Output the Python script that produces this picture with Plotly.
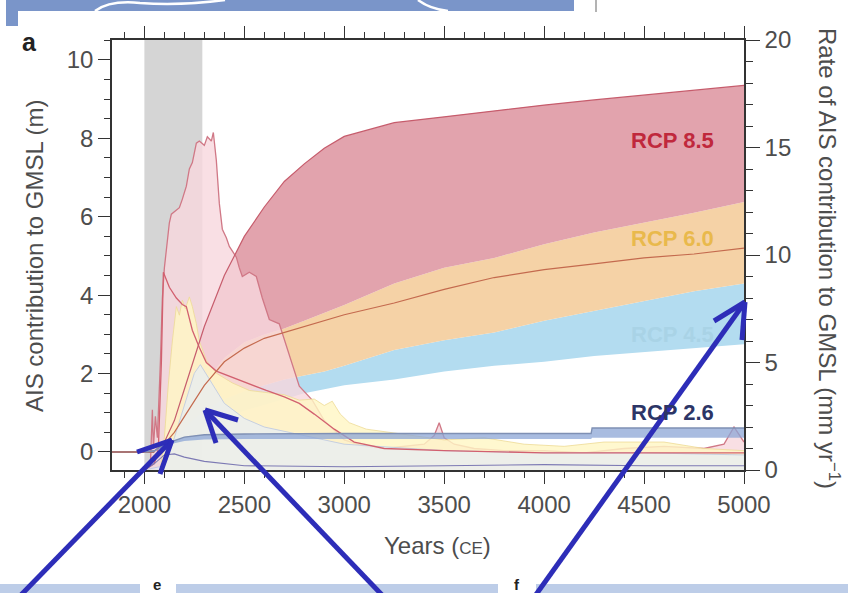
import plotly.graph_objects as go

# ---------------------------------------------------------------- data
# Cumulative Antarctic ice-sheet contribution to GMSL (m), ensemble ranges
band_years = [2000, 2050, 2100, 2150, 2200, 2250, 2300, 2400, 2500, 2600, 2700,
              2800, 2900, 3000, 3250, 3500, 3750, 4000, 4250, 4500, 4750, 5000]
rcp85_upper = [0, 0.02, 0.25, 0.8, 1.6, 2.4, 3.2, 4.5, 5.5, 6.25, 6.9,
               7.35, 7.75, 8.05, 8.4, 8.55, 8.7, 8.85, 8.98, 9.1, 9.22, 9.35]
rcp85_lower = [0, 0.02, 0.2, 0.55, 0.95, 1.35, 1.75, 2.4, 2.8, 3.0, 3.15,
               3.35, 3.55, 3.75, 4.3, 4.7, 4.95, 5.3, 5.6, 5.85, 6.1, 6.38]
median_line = [0, 0.02, 0.2, 0.5, 0.9, 1.3, 1.7, 2.3, 2.65, 2.9, 3.05,
               3.2, 3.35, 3.5, 3.8, 4.15, 4.45, 4.65, 4.8, 4.95, 5.05, 5.2]
rcp60_lower = [0, 0.01, 0.12, 0.35, 0.6, 0.85, 1.05, 1.35, 1.55, 1.7, 1.85,
               1.95, 2.05, 2.2, 2.6, 2.85, 3.05, 3.35, 3.6, 3.85, 4.1, 4.3]
rcp45_lower = [0, 0.01, 0.08, 0.2, 0.35, 0.5, 0.65, 0.85, 1.05, 1.2, 1.35,
               1.5, 1.6, 1.7, 1.85, 2.05, 2.2, 2.3, 2.45, 2.55, 2.65, 2.75]

rcp26_years = [2000, 2050, 2100, 2150, 2200, 2300, 2500, 3000, 4000, 4235, 4240, 5000]
rcp26_lower = [0, 0.01, 0.12, 0.22, 0.28, 0.32, 0.33, 0.33, 0.33, 0.33, 0.36, 0.36]
rcp26_upper = [0, 0.03, 0.2, 0.3, 0.38, 0.44, 0.46, 0.47, 0.47, 0.47, 0.61, 0.61]

base_years = [1838, 2050]
base_vals = [0, 0]

# Rate of AIS contribution (mm/yr)
rate85_years = [2000, 2030, 2040, 2045, 2055, 2065, 2080, 2090, 2100, 2115, 2125,
                2135, 2150, 2175, 2190, 2210, 2225, 2240, 2260, 2275, 2300, 2315,
                2335, 2345, 2360, 2375, 2390, 2410, 2425, 2460, 2475, 2490, 2525,
                2560, 2590, 2625, 2675, 2725, 2775, 2840, 2900, 3000, 3100, 3200,
                3300, 3400, 3450, 3475, 3500, 3550, 3650, 3800, 4000, 4200, 4400,
                4600, 4800, 4900, 4950, 5000]
rate85_upper = [0, 0.2, 2.8, 1.0, 2.5, 1.5, 5.0, 8.0, 9.4, 10.5, 11.5,
                11.9, 12.0, 12.2, 12.6, 13.2, 14.0, 14.3, 15.2, 15.3, 15.1, 15.5,
                15.3, 15.7, 14.4, 12.4, 11.2, 10.8, 10.4, 9.9, 9.4, 9.0, 9.2,
                9.0, 8.0, 7.0, 6.8, 5.3, 3.9, 3.25, 2.3, 1.4, 1.1, 1.0,
                1.1, 1.2, 1.6, 2.2, 1.5, 1.2, 1.0, 0.9, 0.9, 0.8, 1.0,
                1.1, 1.0, 1.2, 2.0, 1.3]

rate85_mid_years = [2000, 2050, 2070, 2085, 2095, 2110, 2125, 2160, 2190, 2210,
                    2240, 2275, 2310, 2360, 2440, 2520, 2610, 2700, 2775, 2850,
                    2950, 3050, 3200, 3500, 4000, 4500, 5000]
rate85_mid = [0, 0.3, 1.0, 5.0, 9.2, 8.8, 8.5, 8.0, 7.7, 7.6,
              6.5, 5.7, 5.0, 4.6, 4.3, 4.0, 3.7, 3.4, 3.1, 2.6,
              1.9, 1.3, 1.0, 0.9, 0.8, 0.8, 0.8]

rate60_years = [2000, 2080, 2100, 2120, 2140, 2160, 2175, 2190, 2205, 2225, 2240,
                2260, 2275, 2310, 2360, 2440, 2525, 2610, 2700, 2775, 2850, 2900,
                2940, 2980, 3025, 3110, 3275, 3500, 3700, 3900, 4100, 4300, 4600,
                4800, 5000]
rate60_upper = [0, 0, 1.5, 4.0, 6.0, 7.6, 7.2, 7.9, 7.5, 8.05, 7.6,
                6.8, 6.0, 5.1, 4.5, 4.05, 3.7, 3.6, 3.5, 3.25, 3.3, 3.0,
                3.2, 2.6, 2.2, 1.9, 1.7, 1.4, 1.5, 1.2, 1.1, 1.3, 1.3,
                1.0, 0.9]

rate45_years = [2000, 2100, 2150, 2200, 2250, 2280, 2300, 2350, 2400, 2500, 2600,
                2800, 3000, 3500, 4000, 4500, 5000]
rate45_upper = [0, 0.2, 1.5, 3.0, 4.5, 4.9, 4.6, 3.8, 3.1, 2.4, 2.0,
                1.6, 1.2, 0.9, 0.8, 0.8, 0.7]

rate26_years = [2000, 2050, 2100, 2150, 2200, 2300, 2500, 3000, 3500, 4000, 4500, 5000]
rate26 = [0, 0.3, 0.7, 0.75, 0.6, 0.4, 0.2, 0.15, 0.2, 0.25, 0.2, 0.2]

scenario_labels = ["RCP 8.5", "RCP 6.0", "RCP 4.5", "RCP 2.6"]
label_heights_m = [7.95, 5.45, 3.0, 1.0]
label_colors = ["#C0283C", "#E9B94C", "#A9D3E6", "#2C3566"]

x_ticks = [2000, 2500, 3000, 3500, 4000, 4500, 5000]

# ---------------------------------------------------------------- figure
FONT = "Liberation Sans, Arial, sans-serif"
fig = go.Figure()


def band(xs, lo, hi, color, yaxis="y"):
    fig.add_trace(go.Scatter(x=xs, y=lo, mode="lines", line=dict(width=0),
                             hoverinfo="skip", showlegend=False, yaxis=yaxis))
    fig.add_trace(go.Scatter(x=xs, y=hi, mode="lines", line=dict(width=0),
                             fill="tonexty", fillcolor=color,
                             hoverinfo="skip", showlegend=False, yaxis=yaxis))


# sea-level bands (left axis)
band(band_years, rcp45_lower, rcp60_lower, "#B3DCF0")
band(band_years, rcp60_lower, rcp85_lower, "#F5D2A6")
band(band_years, rcp85_lower, rcp85_upper, "#E2A3AD")

# rate envelopes (right axis), drawn over the bands
fig.add_trace(go.Scatter(x=rate85_years, y=rate85_upper, yaxis="y2", mode="lines",
                         line=dict(color="#D07886", width=1.3), fill="tozeroy",
                         fillcolor="rgba(247,215,221,0.80)", showlegend=False))
fig.add_trace(go.Scatter(x=rate60_years, y=rate60_upper, yaxis="y2", mode="lines",
                         line=dict(color="#EDDB95", width=0.8), fill="tozeroy",
                         fillcolor="rgba(255,246,196,0.82)", showlegend=False))
fig.add_trace(go.Scatter(x=rate45_years, y=rate45_upper, yaxis="y2", mode="lines",
                         line=dict(color="#BAC6E2", width=0.8), fill="tozeroy",
                         fillcolor="rgba(228,236,250,0.65)", showlegend=False))
fig.add_trace(go.Scatter(x=rate85_mid_years, y=rate85_mid, yaxis="y2", mode="lines",
                         line=dict(color="#D2606F", width=1.3), showlegend=False))
fig.add_trace(go.Scatter(x=rate26_years, y=rate26, yaxis="y2", mode="lines",
                         line=dict(color="#7D7AB4", width=1.1), showlegend=False))

# outlines and low-scenario band on top (left-axis scale)
fig.add_trace(go.Scatter(x=band_years, y=rcp85_upper, yaxis="y3", mode="lines",
                         line=dict(color="#C65C6C", width=1.2), showlegend=False))
fig.add_trace(go.Scatter(x=band_years, y=median_line, yaxis="y3", mode="lines",
                         line=dict(color="#C46A4E", width=1.2), showlegend=False))
fig.add_trace(go.Scatter(x=base_years, y=base_vals, yaxis="y3", mode="lines",
                         line=dict(color="#A87474", width=2), showlegend=False))
band(rcp26_years, rcp26_lower, rcp26_upper, "rgba(140,166,214,0.75)", yaxis="y3")
fig.add_trace(go.Scatter(x=rcp26_years, y=rcp26_upper, yaxis="y3", mode="lines",
                         line=dict(color="#7F90B4", width=1.4), showlegend=False))

# ---------------------------------------------------------------- axes
L, R, T, B = 112, 744, 40, 470
W, H = 848, 593


def px(x):
    return (x - L) / (R - L)


def py(y):
    return (B - y) / (B - T)


tickfont = dict(family=FONT, size=24, color="#4D4D4D")
axis_common = dict(showline=True, linecolor="#333333", linewidth=1.5,
                   ticks="outside", tickcolor="#333333", tickwidth=1.3,
                   showgrid=False, zeroline=False, tickfont=tickfont)

Y_RANGE = [-0.46, 10.51]
fig.update_layout(
    width=W, height=H, autosize=False,
    margin=dict(l=L, r=W - R, t=T, b=H - B),
    paper_bgcolor="white", plot_bgcolor="white",
    xaxis=dict(range=[1838, 5000], tickvals=x_ticks, ticklen=12, mirror="ticks",
               minor=dict(dtick=100, tick0=2000, ticklen=6, ticks="outside",
                          tickcolor="#333333"),
               **axis_common),
    yaxis=dict(range=Y_RANGE, tickvals=[0, 2, 4, 6, 8, 10], ticklen=12,
               minor=dict(dtick=0.5, tick0=0, ticklen=6, ticks="outside",
                          tickcolor="#333333"),
               **axis_common),
    yaxis2=dict(range=[0, 20], tickvals=[0, 5, 10, 15, 20], ticklen=14,
                overlaying="y", side="right",
                minor=dict(dtick=1, tick0=0, ticklen=7, ticks="outside",
                           tickcolor="#333333"),
                **axis_common),
    yaxis3=dict(range=Y_RANGE, overlaying="y", visible=False),
)

# grey shading for the early period
fig.add_shape(type="rect", xref="x", yref="paper", x0=2000, x1=2290, y0=0, y1=1,
              fillcolor="#D5D5D5", line_width=0, layer="below")

# scenario labels
for text, ym, col in zip(scenario_labels, label_heights_m, label_colors):
    fig.add_annotation(x=4640, y=ym, xref="x", yref="y", text=f"<b>{text}</b>",
                       xanchor="center", yanchor="middle", showarrow=False,
                       font=dict(family=FONT, size=22, color=col))


def note(x, y, text, font, angle=0):
    fig.add_annotation(x=px(x), y=py(y), xref="paper", yref="paper", text=text,
                       textangle=angle, xanchor="center", yanchor="middle",
                       showarrow=False, font=font)


title_font = dict(family=FONT, size=24, color="#4D4D4D")
note(34, 256, "AIS contribution to GMSL (m)", title_font, -90)
note(829, 258, "Rate of AIS contribution to GMSL (mm yr<sup>−1</sup>)", title_font, 90)
note(437, 545, "Years (<span style='font-size:17px'>CE</span>)", title_font)
note(29, 42, "<b>a</b>", dict(family=FONT, size=25, color="#222222"))


# page furniture around the panel
def rect(x0, y0, x1, y1, color):
    fig.add_shape(type="rect", xref="paper", yref="paper", x0=px(x0), x1=px(x1),
                  y0=py(y1), y1=py(y0), fillcolor=color, line_width=0, layer="above")


rect(6, 0, 574, 11, "#7A95C9")
rect(6, 11, 18, 26, "#7A95C9")
fig.add_shape(type="path", xref="paper", yref="paper",
              path=(f"M {px(95)},{py(11)} Q {px(110)},{py(0)} {px(140)},{py(3)} "
                    f"Q {px(180)},{py(6)} {px(225)},{py(0)}"),
              line=dict(color="white", width=2.5))
fig.add_shape(type="path", xref="paper", yref="paper",
              path=f"M {px(418)},{py(0)} Q {px(430)},{py(9)} {px(448)},{py(11)}",
              line=dict(color="white", width=2.5))
fig.add_shape(type="line", xref="paper", yref="paper", x0=px(596), x1=px(596),
              y0=py(0), y1=py(12), line=dict(color="#9A9A9A", width=1.5))
rect(0, 584, 848, 593, "#BDCDE8")
rect(140, 580, 176, 593, "white")
rect(498, 580, 536, 593, "white")
note(157, 584, "<b>e</b>", dict(family=FONT, size=15, color="#222"))
note(517, 584, "<b>f</b>", dict(family=FONT, size=15, color="#222"))

# pointer arrows
ARROW = dict(color="#2D2DB8", width=5)
arrows = [((20, 596), (172, 440), (137, 452), (160, 474)),
          ((383, 596), (205, 410), (238, 420), (216, 443)),
          ((535, 596), (745, 302), (714, 321), (742, 340))]
for tail, tip, arm1, arm2 in arrows:
    for a, b in ((tail, tip), (tip, arm1), (tip, arm2)):
        fig.add_shape(type="line", xref="paper", yref="paper",
                      x0=px(a[0]), y0=py(a[1]), x1=px(b[0]), y1=py(b[1]),
                      line=ARROW, layer="above")

fig.write_html("out.html")
